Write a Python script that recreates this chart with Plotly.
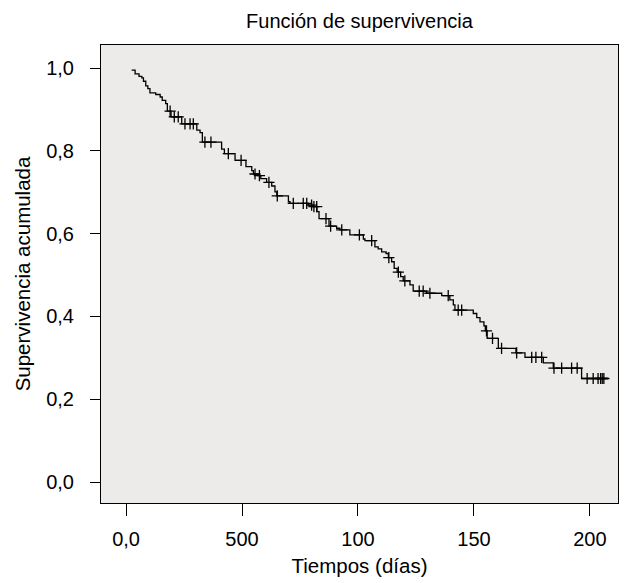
import plotly.graph_objects as go

# Kaplan-Meier step function: event times and survival after each step
event_times = [2.4, 3.9, 5.6, 6.8, 7.5, 8.5, 9.4, 10.3, 12.8, 14.7, 15.6, 17.1, 17.8,
               19.4, 24.0, 30.5, 31.9, 32.9, 41.2, 42.4, 47.0, 51.7, 54.2, 54.9, 56.9,
               58.1, 60.6, 62.8, 64.2, 65.0, 70.0, 70.7, 78.6, 80.6, 82.3, 83.2, 87.5,
               90.8, 92.2, 96.5, 102.3, 103.0, 107.3, 108.7, 110.2, 112.1, 113.1, 114.5,
               115.6, 116.9, 118.4, 119.5, 122.4, 123.8, 129.6, 136.1, 139.6, 141.1,
               141.8, 149.7, 151.2, 152.6, 154.3, 154.9, 155.7, 160.5, 168.1, 172.0,
               179.9, 184.2, 196.4, 207.9]
survival = [0.995, 0.986, 0.980, 0.976, 0.968, 0.957, 0.950, 0.940, 0.936, 0.930, 0.922,
            0.914, 0.896, 0.882, 0.865, 0.850, 0.844, 0.821, 0.804, 0.793, 0.777, 0.762,
            0.752, 0.744, 0.740, 0.733, 0.724, 0.715, 0.701, 0.691, 0.677, 0.673, 0.669,
            0.665, 0.653, 0.636, 0.618, 0.613, 0.609, 0.597, 0.587, 0.583, 0.568, 0.563,
            0.556, 0.552, 0.542, 0.532, 0.516, 0.507, 0.496, 0.486, 0.476, 0.461, 0.456,
            0.450, 0.440, 0.428, 0.415, 0.407, 0.397, 0.387, 0.377, 0.365, 0.347, 0.323,
            0.312, 0.301, 0.288, 0.275, 0.250, 0.250]

# Censored observation times
censor_times = [19.0, 20.8, 22.5, 25.4, 27.6, 29.0, 34.0, 36.6, 44.1, 49.6, 55.6, 57.5,
                61.6, 65.2, 72.1, 76.4, 77.9, 80.0, 81.0, 82.2, 86.2, 88.2, 93.0, 100.6,
                105.9, 113.3, 117.4, 120.2, 126.4, 128.1, 131.0, 138.9, 143.2, 144.7,
                155.4, 158.0, 161.9, 168.4, 174.9, 176.7, 179.2, 184.5, 187.8, 192.1,
                194.5, 198.8, 201.4, 203.5, 204.6, 205.3, 206.0]

x_tickvals = [0, 50, 100, 150, 200]
x_ticktext = ["0,0", "500", "100", "150", "200"]
y_tickvals = [0.0, 0.2, 0.4, 0.6, 0.8, 1.0]
y_ticktext = ["0,0", "0,2", "0,4", "0,6", "0,8", "1,0"]


def surv_at(t):
    s = survival[0]
    for et, sv in zip(event_times, survival):
        if et <= t:
            s = sv
        else:
            break
    return s


censor_surv = [surv_at(t) for t in censor_times]

FONT = "Liberation Sans, Arial, sans-serif"
OFF = 8  # page body margin of the browser
W, H = 642 - OFF, 583 - OFF

fig = go.Figure()
fig.add_trace(go.Scatter(
    x=event_times, y=survival, mode="lines", line_shape="hv",
    line=dict(color="black", width=1.3), showlegend=False, hoverinfo="skip"))
fig.add_trace(go.Scatter(
    x=censor_times, y=censor_surv, mode="markers",
    marker=dict(symbol="cross-thin", size=8, line=dict(color="black", width=1.3)),
    showlegend=False, hoverinfo="skip"))

fig.update_layout(
    width=W, height=H,
    margin=dict(l=101 - OFF, r=24, t=45 - OFF, b=80, autoexpand=False),
    paper_bgcolor="white", plot_bgcolor="#ECEBE9",
    font=dict(family=FONT, size=20, color="black"),
    title=dict(text="Función de supervivencia", x=(359.5 - OFF) / W,
               xanchor="center", y=1 - (21 - OFF) / H, yanchor="middle",
               font=dict(family=FONT, size=20, color="black")),
    xaxis=dict(range=[-10.8, 212.1], tickvals=x_tickvals, ticktext=x_ticktext,
               showgrid=False, zeroline=False, showline=True, mirror=True,
               linecolor="black", linewidth=1, ticks="outside", ticklen=12,
               tickcolor="black", ticklabelstandoff=6, automargin=False,
               tickfont=dict(family=FONT, size=20),
               title=dict(text="Tiempos (días)", standoff=9,
                          font=dict(family=FONT, size=20.5))),
    yaxis=dict(range=[-0.0507, 1.0556], tickvals=y_tickvals, ticktext=y_ticktext,
               showgrid=False, zeroline=False, showline=True, mirror=True,
               linecolor="black", linewidth=1, ticks="outside", ticklen=10,
               tickcolor="black", ticklabelstandoff=12, automargin=False,
               tickfont=dict(family=FONT, size=20),
               title=dict(text="Supervivencia acumulada", standoff=10,
                          font=dict(family=FONT, size=20.5))),
)

fig.write_html("out.html")
